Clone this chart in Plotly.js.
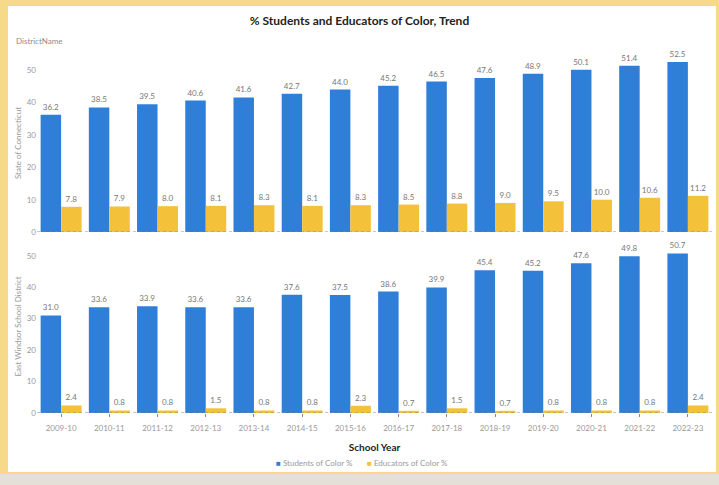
<!DOCTYPE html>
<html>
<head>
<meta charset="utf-8">
<script src="https://cdn.plot.ly/plotly-3.0.1.min.js"></script>
<style>
  html, body { margin: 0; padding: 0; width: 719px; height: 485px; overflow: hidden; background: #f7d98a; }
  #card { position: absolute; left: 8px; top: 6px; width: 708px; height: 466px; background: #ffffff; }
  #strip { position: absolute; left: 0; top: 474px; width: 719px; height: 11px; background: #e4e0d8; }
  #chart { position: absolute; left: 0; top: 0; width: 719px; height: 485px; }
</style>
</head>
<body>
<div id="card"></div>
<div id="strip"></div>
<div id="chart"></div>
<script>
const schoolYears = ["2009-10","2010-11","2011-12","2012-13","2013-14","2014-15","2015-16","2016-17","2017-18","2018-19","2019-20","2020-21","2021-22","2022-23"];
const stateStudents = [36.2,38.5,39.5,40.6,41.6,42.7,44.0,45.2,46.5,47.6,48.9,50.1,51.4,52.5];
const stateEducators = [7.8,7.9,8.0,8.1,8.3,8.1,8.3,8.5,8.8,9.0,9.5,10.0,10.6,11.2];
const ewStudents = [31.0,33.6,33.9,33.6,33.6,37.6,37.5,38.6,39.9,45.4,45.2,47.6,49.8,50.7];
const ewEducators = [2.4,0.8,0.8,1.5,0.8,0.8,2.3,0.7,1.5,0.7,0.8,0.8,0.8,2.4];
const seriesNames = ["Students of Color %", "Educators of Color %"];

const blue = "#2f7fd8";
const gold = "#f4c23a";
const labelFont = {family: "Lato, sans-serif", size: 8, color: "#777"};

function bar(y, name, color, xa, ya) {
  return {
    type: "bar", x: schoolYears, y: y, name: name, xaxis: xa, yaxis: ya,
    marker: {color: color}, showlegend: false,
    text: y.map(v => v.toFixed(1)), textposition: "outside", textfont: labelFont,
    cliponaxis: false
  };
}

const data = [
  bar(stateStudents, seriesNames[0], blue, "x", "y"),
  bar(stateEducators, seriesNames[1], gold, "x", "y"),
  bar(ewStudents, seriesNames[0], blue, "x2", "y2"),
  bar(ewEducators, seriesNames[1], gold, "x2", "y2")
];

const tickFont = {family: "Lato, sans-serif", size: 8, color: "#999"};
const legendFont = {family: "Lato, sans-serif", size: 8, color: "#999"};
const layout = {
  width: 719, height: 485,
  paper_bgcolor: "rgba(0,0,0,0)", plot_bgcolor: "rgba(0,0,0,0)",
  margin: {l: 37, r: 7, t: 54, b: 72},
  font: {family: "Lato, sans-serif"},
  barmode: "group", bargap: 0.15, bargroupgap: 0,
  showlegend: false,
  title: {text: "<b>% Students and Educators of Color, Trend</b>", font: {family: "Lato, sans-serif", size: 12, color: "#222"}, x: 0.5, xanchor: "center", y: 0.958, yanchor: "middle"},
  xaxis: {type: "category", domain: [0,1], anchor: "y", showticklabels: false, ticks: "", showgrid: false, zeroline: false, showline: false, range: [-0.5, 13.5]},
  yaxis: {domain: [0.504, 1], range: [0, 55], tickvals: [0,10,20,30,40,50], tickfont: tickFont, showgrid: false, zeroline: false, ticks: "",
          title: {text: "State of Connecticut", font: {family: "Lato, sans-serif", size: 8, color: "#999"}, standoff: 3}},
  xaxis2: {type: "category", domain: [0,1], anchor: "y2", tickfont: tickFont, ticks: "outside", ticklen: 3, tickcolor: "#888", ticklabelstandoff: 4,
           showgrid: false, zeroline: false, showline: false, range: [-0.5, 13.5],
           title: {text: "<b>School Year</b>", font: {family: "Lato, sans-serif", size: 10, color: "#222"}, standoff: 12}},
  yaxis2: {domain: [0, 0.482], range: [0, 55], tickvals: [0,10,20,30,40,50], tickfont: tickFont, showgrid: false, zeroline: false, ticks: "",
           title: {text: "East Windsor School District", font: {family: "Lato, sans-serif", size: 8, color: "#999"}, standoff: 3}},
  shapes: [
    {type: "line", xref: "paper", yref: "y", x0: 0, x1: 1, y0: 0, y1: 0, line: {color: "#888", width: 1, dash: "dot"}},
    {type: "line", xref: "paper", yref: "y2", x0: 0, x1: 1, y0: 0, y1: 0, line: {color: "#888", width: 1, dash: "dot"}}
  ],
  annotations: [
    {text: "DistrictName", xref: "paper", yref: "paper", x: -0.034, y: 1.036, xanchor: "left", yanchor: "middle", showarrow: false, font: {family: "Lato, sans-serif", size: 8, color: "#8c8c8c"}},
    {text: "<span style='color:" + blue + "'>■</span> " + seriesNames[0], xref: "paper", yref: "paper", x: 0.471, y: -0.139, xanchor: "right", yanchor: "middle", showarrow: false, font: legendFont},
    {text: "<span style='color:" + gold + "'>■</span> " + seriesNames[1], xref: "paper", yref: "paper", x: 0.4855, y: -0.139, xanchor: "left", yanchor: "middle", showarrow: false, font: legendFont}
  ]
};

Plotly.newPlot("chart", data, layout, {displayModeBar: false, staticPlot: true});
</script>
</body>
</html>
